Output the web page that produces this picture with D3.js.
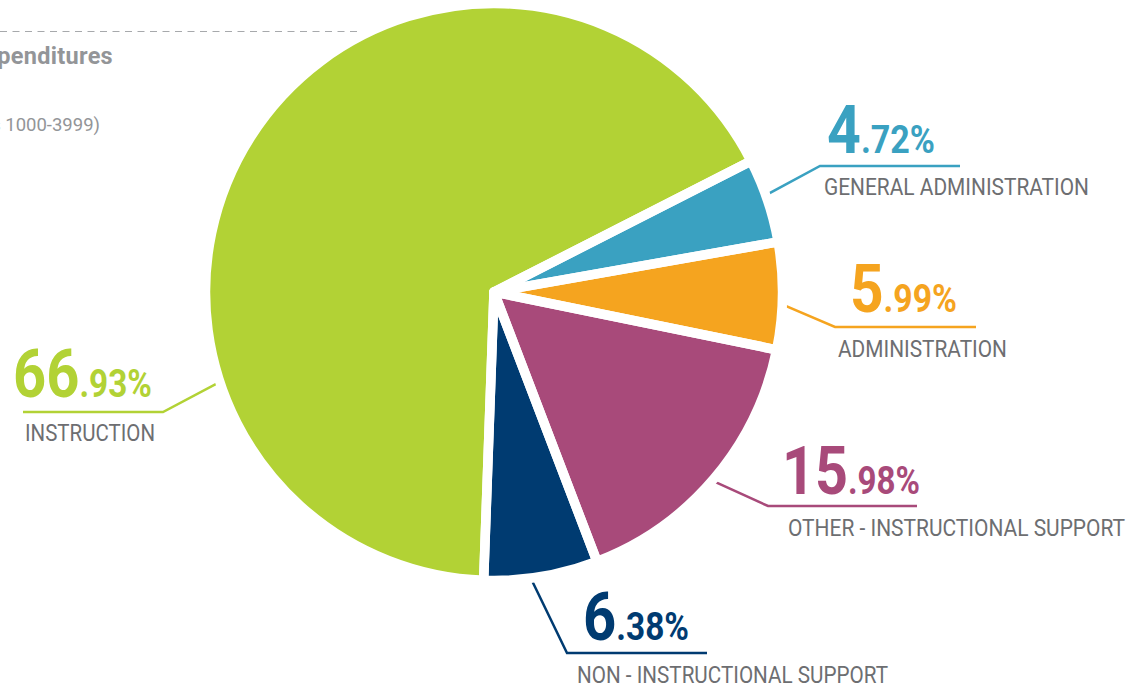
<!DOCTYPE html>
<html>
<head>
<meta charset="UTF-8">
<title>Expenditures by Function</title>
<style>
    body {
        margin: 0;
        background: #fff;
        font-family: Roboto, "Open Sans", sans-serif;
    }

    .name {
        fill: #6d6e71;
        font-size: 23px;
    }

    .big {
        font-weight: 700;
        font-size: 66px;
    }

    .small {
        font-weight: 700;
        font-size: 38px;
    }

    .title {
        fill: #939598;
        font-weight: 700;
        font-size: 23.5px;
        letter-spacing: 0.3px;
        text-anchor: end;
    }

    .subtitle {
        fill: #939598;
        font-size: 18.5px;
        text-anchor: end;
    }
</style>
</head>
<body>
<svg id="chart" width="1143" height="688"></svg>
<script src="https://cdn.jsdelivr.net/npm/d3@7/dist/d3.min.js"></script>
<script>
    // slice order runs clockwise from the upper right
    var categories = ["GENERAL ADMINISTRATION", "ADMINISTRATION", "OTHER - INSTRUCTIONAL SUPPORT",
        "NON - INSTRUCTIONAL SUPPORT", "INSTRUCTION"];
    var shares = [4.72, 5.99, 15.98, 6.38, 66.93];
    var colors = ["#3aa1c1", "#f5a41f", "#a84a7a", "#003b71", "#b2d235"];

    // where each callout sits (number baseline, underline, label, leader angle)
    var callouts = [
        { x: 827, y: 153, w: 108, lineY: 166, x0: 820, x1: 960, nameX: 824, nameY: 195, nameW: 265, angle: 71, side: "right" },
        { x: 850, y: 312, w: 107, lineY: 327, x0: 835, x1: 976, nameX: 838, nameY: 357, nameW: 169, angle: 91, side: "right" },
        { x: 782, y: 494, w: 138, lineY: 506, x0: 768, x1: 917, nameX: 788, nameY: 536, nameW: 337, angle: 132, side: "right" },
        { x: 583, y: 640, w: 106, lineY: 653, x0: 567, x1: 707, nameX: 577, nameY: 683, nameW: 311, angle: 174, side: "right" },
        { x: 13, y: 397, w: 139, lineY: 412, x0: 23, x1: 163, nameX: 25, nameY: 441, nameW: 130, angle: 252.5, side: "left" }
    ];

    var cx = 494, cy = 292, radius = 288.5, gap = 9.5;
    var start = 63 * Math.PI / 180;

    var data = categories.map(function(c, i) {
        return { name: c, value: shares[i], color: colors[i], pos: callouts[i] };
    });

    var svg = d3.select("#chart");

    // dashed rule behind the title
    svg.append("line")
        .attr("x1", 0).attr("x2", 420)
        .attr("y1", 31.5).attr("y2", 31.5)
        .attr("stroke", "#a7a9ac")
        .attr("stroke-width", 1.2)
        .attr("stroke-dasharray", "7,5.5");

    svg.append("text").attr("class", "title")
        .attr("x", 113).attr("y", 64)
        .text("Total Expenditures");

    svg.append("text").attr("class", "subtitle")
        .attr("x", 100).attr("y", 131)
        .text("(Object Codes 1000-3999)");

    var pie = d3.pie()
        .sort(null)
        .value(function(d) { return d.value; })
        .startAngle(start)
        .endAngle(start + 2 * Math.PI);

    var arc = d3.arc()
        .innerRadius(0)
        .outerRadius(radius);

    var arcs = pie(data);

    // leader lines go under the pie so they start at the slice edge
    var leaders = svg.append("g");
    leaders.selectAll("polyline")
        .data(arcs)
        .join("polyline")
        .attr("fill", "none")
        .attr("stroke", function(d) { return d.data.color; })
        .attr("stroke-width", 2.5)
        .attr("points", function(d) {
            var p = d.data.pos;
            var a = p.angle * Math.PI / 180;
            var sx = cx + 270 * Math.sin(a), sy = cy - 270 * Math.cos(a);
            var elbow = p.side === "right" ? p.x0 : p.x1;
            var end = p.side === "right" ? p.x1 : p.x0;
            return [[sx, sy], [elbow, p.lineY], [end, p.lineY]].join(" ");
        });

    var g = svg.append("g")
        .attr("transform", "translate(" + cx + "," + cy + ")");

    g.selectAll(".slice")
        .data(arcs)
        .join("path")
        .attr("class", "slice")
        .attr("d", arc)
        .attr("fill", function(d) { return d.data.color; });

    // white strokes make the even gaps between slices
    g.selectAll(".gap")
        .data(arcs)
        .join("path")
        .attr("class", "gap")
        .attr("d", arc)
        .attr("fill", "none")
        .attr("stroke", "#fff")
        .attr("stroke-width", gap)
        .attr("stroke-linejoin", "round");

    var fmt = d3.format(".2f");

    var labels = svg.append("g").selectAll("g")
        .data(data)
        .join("g");

    var num = labels.append("text")
        .attr("x", function(d) { return d.pos.x; })
        .attr("y", function(d) { return d.pos.y; })
        .attr("fill", function(d) { return d.color; })
        .attr("textLength", function(d) { return d.pos.w; })
        .attr("lengthAdjust", "spacingAndGlyphs");

    num.append("tspan")
        .attr("class", "big")
        .text(function(d) { return fmt(d.value).split(".")[0]; });

    num.append("tspan")
        .attr("class", "small")
        .text(function(d) { return "." + fmt(d.value).split(".")[1] + "%"; });

    labels.append("text")
        .attr("class", "name")
        .attr("x", function(d) { return d.pos.nameX; })
        .attr("y", function(d) { return d.pos.nameY; })
        .attr("textLength", function(d) { return d.pos.nameW; })
        .attr("lengthAdjust", "spacingAndGlyphs")
        .text(function(d) { return d.name; });
</script>
</body>
</html>
